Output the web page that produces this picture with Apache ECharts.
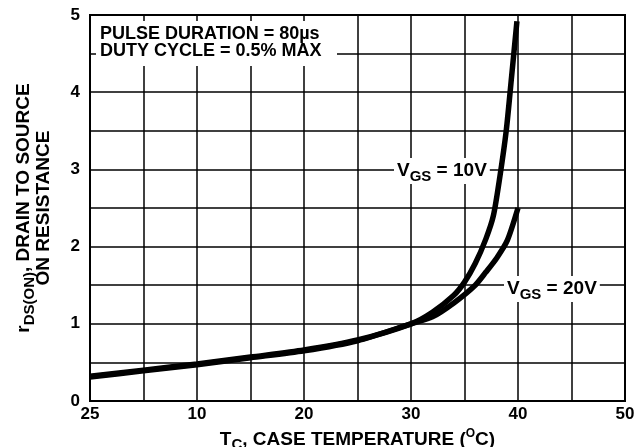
<!DOCTYPE html>
<html>
<head>
<meta charset="utf-8">
<script src="https://cdn.jsdelivr.net/npm/echarts@6/dist/echarts.min.js"></script>
<style>
  html, body { margin: 0; padding: 0; background: #fff; }
  #chart { width: 637px; height: 447px; }
</style>
</head>
<body>
<div id="chart"></div>
<script>
// tick labels (the left-most label reads "25" in the original sheet)
const xTickValues = [0, 10, 20, 30, 40, 50];
const xTickLabels = ['25', '10', '20', '30', '40', '50'];
const yTickValues = [0, 1, 2, 3, 4, 5];

// case temperature / on-resistance points
const vgs10 = [
  [0, 0.32], [5, 0.40], [10, 0.48], [15, 0.57], [20, 0.66], [25, 0.79],
  [30, 1.0], [32, 1.15], [34, 1.37], [35, 1.54], [36, 1.78],
  [37, 2.1], [37.7, 2.4], [38.3, 2.9], [38.9, 3.5], [39.4, 4.2], [39.9, 4.92]
];
const vgs20 = [
  [0, 0.31], [5, 0.39], [10, 0.47], [15, 0.56], [20, 0.65], [25, 0.78],
  [30, 1.0], [32, 1.09], [34, 1.27], [36, 1.5], [37, 1.67],
  [38, 1.85], [39, 2.08], [40, 2.5]
];

const FONT = '"Liberation Sans", Arial, sans-serif';
const chart = echarts.init(document.getElementById('chart'));

const txt = { fontFamily: FONT, fontWeight: 'bold', fontSize: 19, color: '#000' };
const tickTxt = { fontFamily: FONT, fontWeight: 'bold', fontSize: 17, color: '#000' };
const rich = {
  t: Object.assign({}, txt),
  s: Object.assign({}, txt, { fontSize: 15, padding: [11, 0, 0, 0] }),
  p: Object.assign({}, txt, { fontSize: 12, padding: [0, 0, 11, 0] })
};

function curve(name, data) {
  return {
    name: name,
    type: 'line',
    data: data,
    showSymbol: false,
    smooth: 0.25,
    lineStyle: { color: '#000', width: 5.5 },
    z: 3
  };
}

chart.setOption({
  animation: false,
  backgroundColor: '#fff',
  grid: {
    left: 90, right: 12, top: 15, bottom: 46,
    outerBoundsMode: 'none',
    show: true, borderColor: '#000', borderWidth: 2
  },
  xAxis: {
    type: 'value', min: 0, max: 50, interval: 5,
    axisLine: { show: true, lineStyle: { color: '#000', width: 2 } },
    axisTick: { show: false },
    splitLine: { show: true, lineStyle: { color: '#000', width: 1.5 } },
    axisLabel: Object.assign({}, tickTxt, {
      margin: 5,
      formatter: function (v) {
        const i = xTickValues.indexOf(v);
        return i >= 0 ? xTickLabels[i] : '';
      }
    }),
    name: '{t|T}{s|C}{t|, CASE TEMPERATURE (}{p|O}{t|C)}',
    nameLocation: 'middle',
    nameGap: 25,
    nameTextStyle: { rich: rich }
  },
  yAxis: {
    type: 'value', min: 0, max: 5, interval: 0.5,
    axisLine: { show: true, lineStyle: { color: '#000', width: 2 } },
    axisTick: { show: false },
    splitLine: { show: true, lineStyle: { color: '#000', width: 1.5 } },
    axisLabel: Object.assign({}, tickTxt, {
      margin: 10,
      formatter: function (v) {
        return yTickValues.indexOf(v) >= 0 ? String(v) : '';
      }
    }),
    name: '{t|r}{s|DS(ON)}{t|, DRAIN TO SOURCE}\n{t|ON RESISTANCE}',
    nameLocation: 'middle',
    nameRotate: 90,
    nameGap: 36,
    nameTextStyle: { rich: rich, align: 'center', lineHeight: 20 }
  },
  graphic: [{
    // white box behind the test conditions; gridline stubs left at the edges act as ticks
    type: 'rect', z: 1,
    shape: { x: 96, y: 21, width: 241, height: 45 },
    style: { fill: '#fff' }
  }, {
    type: 'text', z: 6, left: 100, top: 25,
    style: {
      text: 'PULSE DURATION = 80\u00b5s\nDUTY CYCLE = 0.5% MAX',
      font: 'bold 18px ' + FONT, fill: '#000', lineHeight: 17
    }
  }, {
    type: 'text', z: 6, left: 394, top: 158,
    style: {
      text: '{t|V}{s|GS}{t| = 10V}', rich: rich,
      backgroundColor: '#fff', padding: [0, 3, 0, 3]
    }
  }, {
    type: 'text', z: 6, left: 504, top: 276,
    style: {
      text: '{t|V}{s|GS}{t| = 20V}', rich: rich,
      backgroundColor: '#fff', padding: [0, 3, 0, 3]
    }
  }],
  series: [curve('VGS = 10V', vgs10), curve('VGS = 20V', vgs20)]
});
</script>
</body>
</html>
